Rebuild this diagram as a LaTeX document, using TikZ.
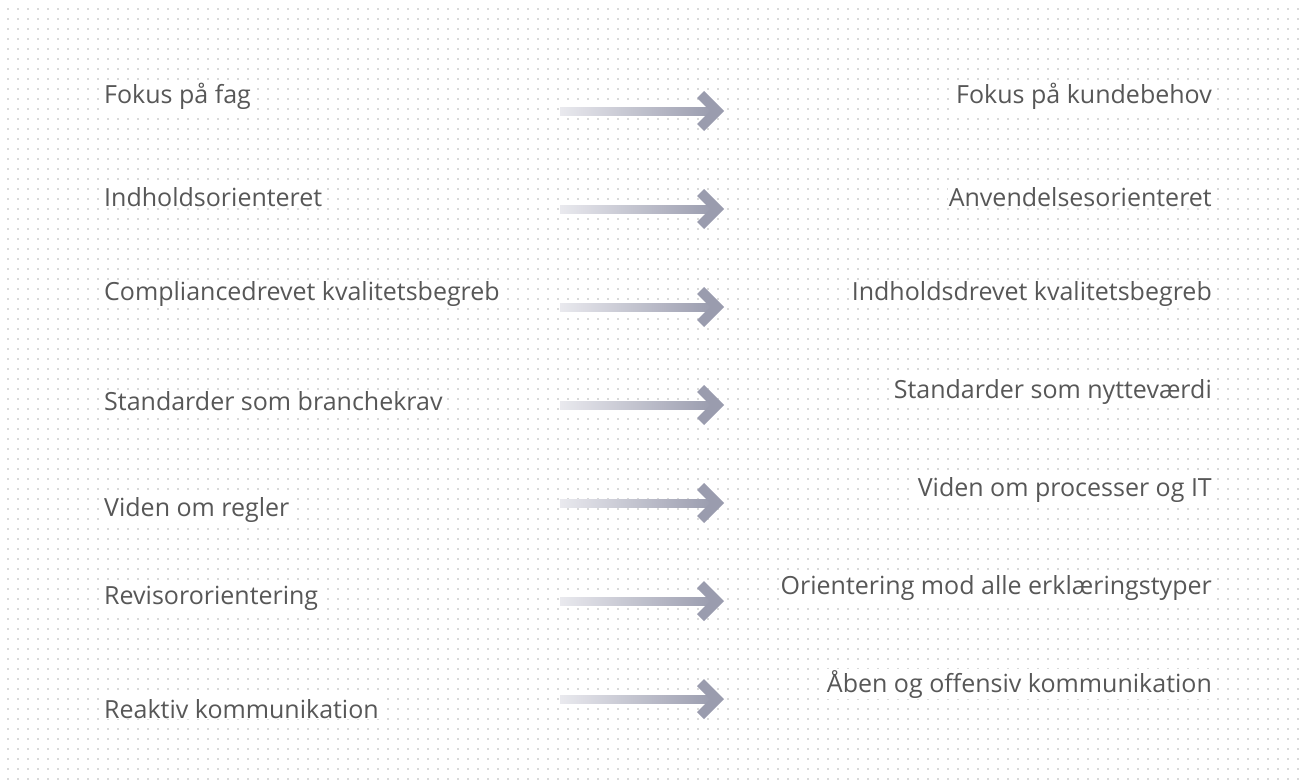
\documentclass[tikz,border=0pt]{standalone}
\usepackage{fontspec}
\setmainfont{Open Sans}
\usetikzlibrary{positioning}

\definecolor{txtgray}{HTML}{575757}
\definecolor{dotgray}{HTML}{D9D9D9}
\definecolor{shaftlight}{HTML}{E9E9EE}
\definecolor{shaftdark}{HTML}{9A9CAE}

\begin{document}
\begin{tikzpicture}[
  x=1pt, y=-1pt,
  lbl/.style={font=\fontsize{25}{30}\selectfont, text=txtgray, fill=white, inner sep=1pt},
  leftlbl/.style={lbl, anchor=base west},
  rightlbl/.style={lbl, anchor=base east},
  shaft/.style={rectangle, inner sep=0pt, minimum width=152pt, minimum height=8pt, anchor=west,
    left color=shaftlight, right color=shaftdark},
  headfill/.style={fill=shaftdark}
]
\useasboundingbox (0,0) rectangle (1304,782);

% dotted background
\foreach \y in {9,19,...,779}
  \draw[dotgray, line width=2pt, dash pattern=on 2pt off 8pt] (7,\y) -- (1304,\y);

% arrows
\foreach \i/\ya in {1/111, 2/209, 3/307, 4/405, 5/503, 6/601, 7/699} {
  \coordinate (s\i) at (560,\ya);
  \coordinate (e\i) at (724,\ya);
  \node[shaft] (sh\i) at (s\i) {};
  \fill[headfill, shift={(e\i)}] (0,0) -- (-20,-20) -- (-27,-13) -- (-14,0) -- (-27,13) -- (-20,20) -- cycle;
}

% left column
\node[leftlbl] (l1) at (103,103) {Fokus på fag};
\node[leftlbl] (l2) at (103,206) {Indholdsorienteret};
\node[leftlbl] (l3) at (103,300) {Compliancedrevet kvalitetsbegreb};
\node[leftlbl] (l4) at (103,410) {Standarder som branchekrav};
\node[leftlbl] (l5) at (103,516) {Viden om regler};
\node[leftlbl] (l6) at (103,604) {Revisororientering};
\node[leftlbl] (l7) at (103,718) {Reaktiv kommunikation};

% right column
\node[rightlbl] (r1) at (1213,103) {Fokus på kundebehov};
\node[rightlbl] (r2) at (1213,206) {Anvendelsesorienteret};
\node[rightlbl] (r3) at (1213,300) {Indholdsdrevet kvalitetsbegreb};
\node[rightlbl] (r4) at (1213,398) {Standarder som nytteværdi};
\node[rightlbl] (r5) at (1213,496) {Viden om processer og IT};
\node[rightlbl] (r6) at (1213,594) {Orientering mod alle erklæringstyper};
\node[rightlbl] (r7) at (1213,692) {Åben og offensiv kommunikation};

\end{tikzpicture}
\end{document}
